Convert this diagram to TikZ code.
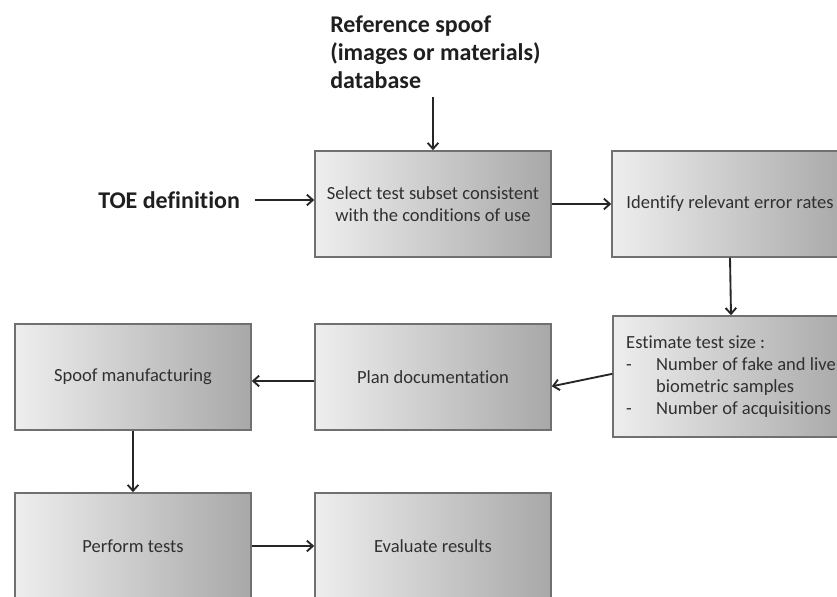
\documentclass[tikz,border=0pt]{standalone}
\usepackage{fontspec}
\setmainfont{Carlito}[Ligatures={NoCommon}]
\usepackage{tikz}
\usetikzlibrary{arrows.meta}
\definecolor{boxLeft}{RGB}{238,238,238}
\definecolor{boxRight}{RGB}{168,168,168}
\definecolor{boxEdge}{RGB}{112,112,112}
\definecolor{boxText}{RGB}{48,48,48}
\newcommand{\boxFont}[0]{\fontsize{13.9pt}{16.5pt}\selectfont}
\newcommand{\titleFont}[0]{\fontsize{18pt}{21pt}\selectfont\bfseries}

\begin{document}
\begin{tikzpicture}[x=0.75pt, y=-0.75pt]
  \tikzset{stepbox/.style={draw=boxEdge, line width=1.1pt, left color=boxLeft, right color=boxRight,
      minimum width=177pt, minimum height=79.5pt, align=center, text=boxText, font=\boxFont},
    title/.style={inner sep=0pt, align=left, text=black!88, font=\titleFont},
    flow/.style={-{Straight Barb[length=4.5pt, width=8pt]}, line width=1.4pt, black!85}}
  \useasboundingbox (0,0) rectangle (837,596);
  \clip (0,0) rectangle (837,596);
  \node[title, anchor=west] (Ref-db) at (330,52) {Reference spoof\\(images or materials)\\database};
  \node[title, anchor=west] (TOE-def) at (98,200) {TOE definition};
  \node[stepbox] (Select-1) at (433,204) {Select test subset consistent\\with the conditions of use};
  \node[stepbox] (Identify-1) at (730,204) {Identify relevant error rates};
  \node[stepbox, minimum height=90.75pt, align=left] (Estimate-1) at (731,376.5)
    {Estimate test size :\\\makebox[22.5pt][l]{-}Number of fake and live\\\hspace*{22.5pt}biometric samples\\\makebox[22.5pt][l]{-}Number of acquisitions\hspace*{2pt}};
  \node[stepbox] (Plan-1) at (433,377) {Plan documentation};
  \node[stepbox] (Spoof-1) at (133,377) {Spoof manufacturing};
  \node[stepbox] (Perform-1) at (133,546) {Perform tests};
  \node[stepbox] (Evaluate-1) at (433,546) {Evaluate results};
  \coordinate (db-out) at (Select-1.north |- Ref-db.south);
  \draw[flow] ([yshift=-6pt]db-out) -- (Select-1.north);
  \draw[flow] ([xshift=11pt]TOE-def.east) -- (TOE-def.east -| Select-1.west);
  \draw[flow] (Select-1.east) -- (Identify-1.west);
  \draw[flow] (Identify-1.south) -- (Estimate-1.north);
  \draw[flow] ([yshift=2pt]Estimate-1.west) -- ([yshift=-7pt]Plan-1.east);
  \draw[flow] ([yshift=-3pt]Plan-1.west) -- ([yshift=-3pt]Spoof-1.east);
  \draw[flow] (Spoof-1.south) -- (Perform-1.north);
  \draw[flow] (Perform-1.east) -- (Evaluate-1.west);
\end{tikzpicture}
\end{document}
